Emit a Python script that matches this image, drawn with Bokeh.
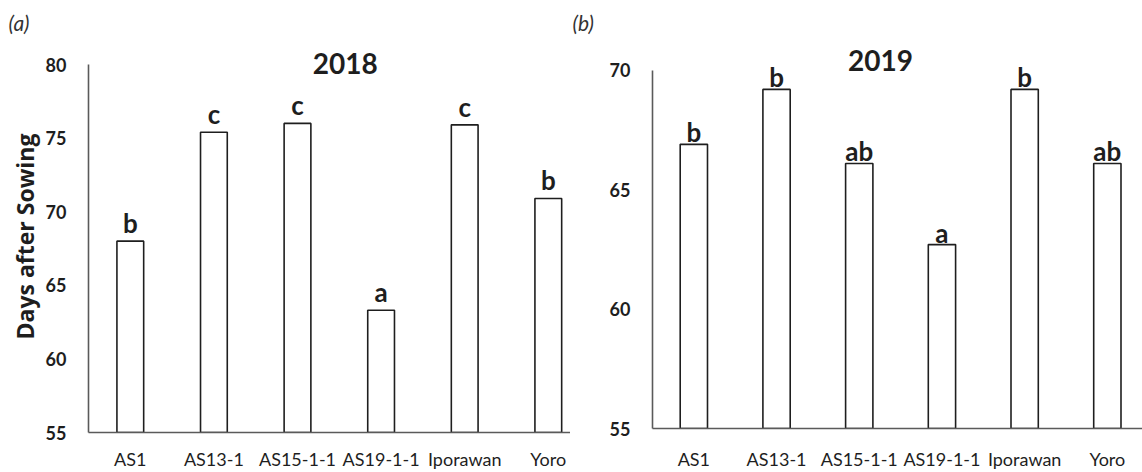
from bokeh.plotting import figure
from bokeh.models import Range1d, FixedTicker
from bokeh.layouts import row
from bokeh.embed import file_html
from bokeh.resources import INLINE
from bokeh.core.properties import value

categories = ["AS1", "AS13-1", "AS15-1-1", "AS19-1-1", "Iporawan", "Yoro"]
days_2018 = [68.0, 75.4, 76.0, 63.3, 75.9, 70.9]
letters_2018 = ["b", "c", "c", "a", "c", "b"]
days_2019 = [66.9, 69.2, 66.1, 62.7, 69.2, 66.1]
letters_2019 = ["b", "b", "ab", "a", "b", "ab"]
yticks_2018 = [55, 60, 65, 70, 75, 80]
yticks_2019 = [55, 60, 65, 70]

FONT = "Lato"
INK = "#1e1e1e"
AXIS = "#5a5a5a"


def make_panel(tag, year, vals, letters, yticks, frame_w, frame_h, border_left,
               border_bottom, tag_x, px_per_cat, px_per_unit, bar_width,
               letter_offset, xlabel_standoff, year_dx, year_dy, ylabel=None):
    xs = [i + 0.5 for i in range(len(categories))]
    x_end = frame_w / px_per_cat
    y_top = yticks[0] + frame_h / px_per_unit
    p = figure(frame_width=frame_w, frame_height=frame_h,
               output_backend="svg", toolbar_location=None,
               x_range=Range1d(0, x_end), y_range=Range1d(yticks[0], y_top),
               min_border_left=border_left, min_border_right=0,
               min_border_top=40, min_border_bottom=border_bottom,
               background_fill_color="white", border_fill_color="white")
    p.outline_line_color = None
    p.grid.visible = False

    # panel tag "(a)" / "(b)"
    p.title.text = tag
    p.title.align = "left"
    p.title.offset = -(border_left - tag_x)
    p.title.standoff = 11
    p.title.text_font = FONT
    p.title.text_font_size = "21px"
    p.title.text_font_style = "italic"
    p.title.text_color = "#333333"

    p.vbar(x=xs, top=vals, bottom=yticks[0], width=bar_width,
           fill_color="white", line_color=INK, line_width=1.6)

    p.text(x=xs, y=vals, text=letters, text_align="center", text_baseline="middle",
           y_offset=letter_offset, text_font=value(FONT), text_font_style="bold",
           text_font_size="26px", text_color=INK)

    p.text(x=[len(categories) / 2], y=[yticks[-1]], text=[year], text_align="center",
           text_baseline="middle", x_offset=year_dx, y_offset=year_dy,
           text_font=value(FONT), text_font_style="bold", text_font_size="28px",
           text_color=INK)

    # x axis
    xa = p.xaxis[0]
    xa.ticker = FixedTicker(ticks=xs)
    xa.major_label_overrides = {x: c for x, c in zip(xs, categories)}
    xa.major_tick_line_color = None
    xa.minor_tick_line_color = None
    xa.axis_line_color = AXIS
    xa.axis_line_width = 1.6
    xa.major_label_standoff = xlabel_standoff
    xa.major_label_text_font = FONT
    xa.major_label_text_font_size = "18px"
    xa.major_label_text_color = INK

    # y axis
    ya = p.yaxis[0]
    ya.ticker = FixedTicker(ticks=yticks)
    ya.bounds = (yticks[0], yticks[-1])
    ya.major_tick_line_color = None
    ya.minor_tick_line_color = None
    ya.axis_line_color = AXIS
    ya.axis_line_width = 1.6
    ya.major_label_standoff = 16
    ya.major_label_text_font = FONT
    ya.major_label_text_font_style = "bold"
    ya.major_label_text_font_size = "18px"
    ya.major_label_text_color = INK
    if ylabel:
        ya.axis_label = ylabel
        ya.axis_label_standoff = 2
        ya.axis_label_text_font = "Open Sans"
        ya.axis_label_text_font_style = "bold"
        ya.axis_label_text_font_size = "23px"
        ya.axis_label_text_color = INK
    return p


left = make_panel("(a)", "2018", days_2018, letters_2018, yticks_2018,
                  frame_w=482, frame_h=392, border_left=88, border_bottom=40,
                  tag_x=8, px_per_cat=83.6, px_per_unit=14.72, bar_width=0.32,
                  letter_offset=-18, xlabel_standoff=9, year_dx=6, year_dy=-1.5,
                  ylabel="Days after Sowing")
right = make_panel("(b)", "2019", days_2019, letters_2019, yticks_2019,
                   frame_w=490, frame_h=388, border_left=82, border_bottom=44,
                   tag_x=2, px_per_cat=82.7, px_per_unit=23.88, bar_width=0.33,
                   letter_offset=-12, xlabel_standoff=13, year_dx=-20, year_dy=-9.5)

layout = row(left, right)
open("out.html", "w").write(file_html(layout, INLINE))
